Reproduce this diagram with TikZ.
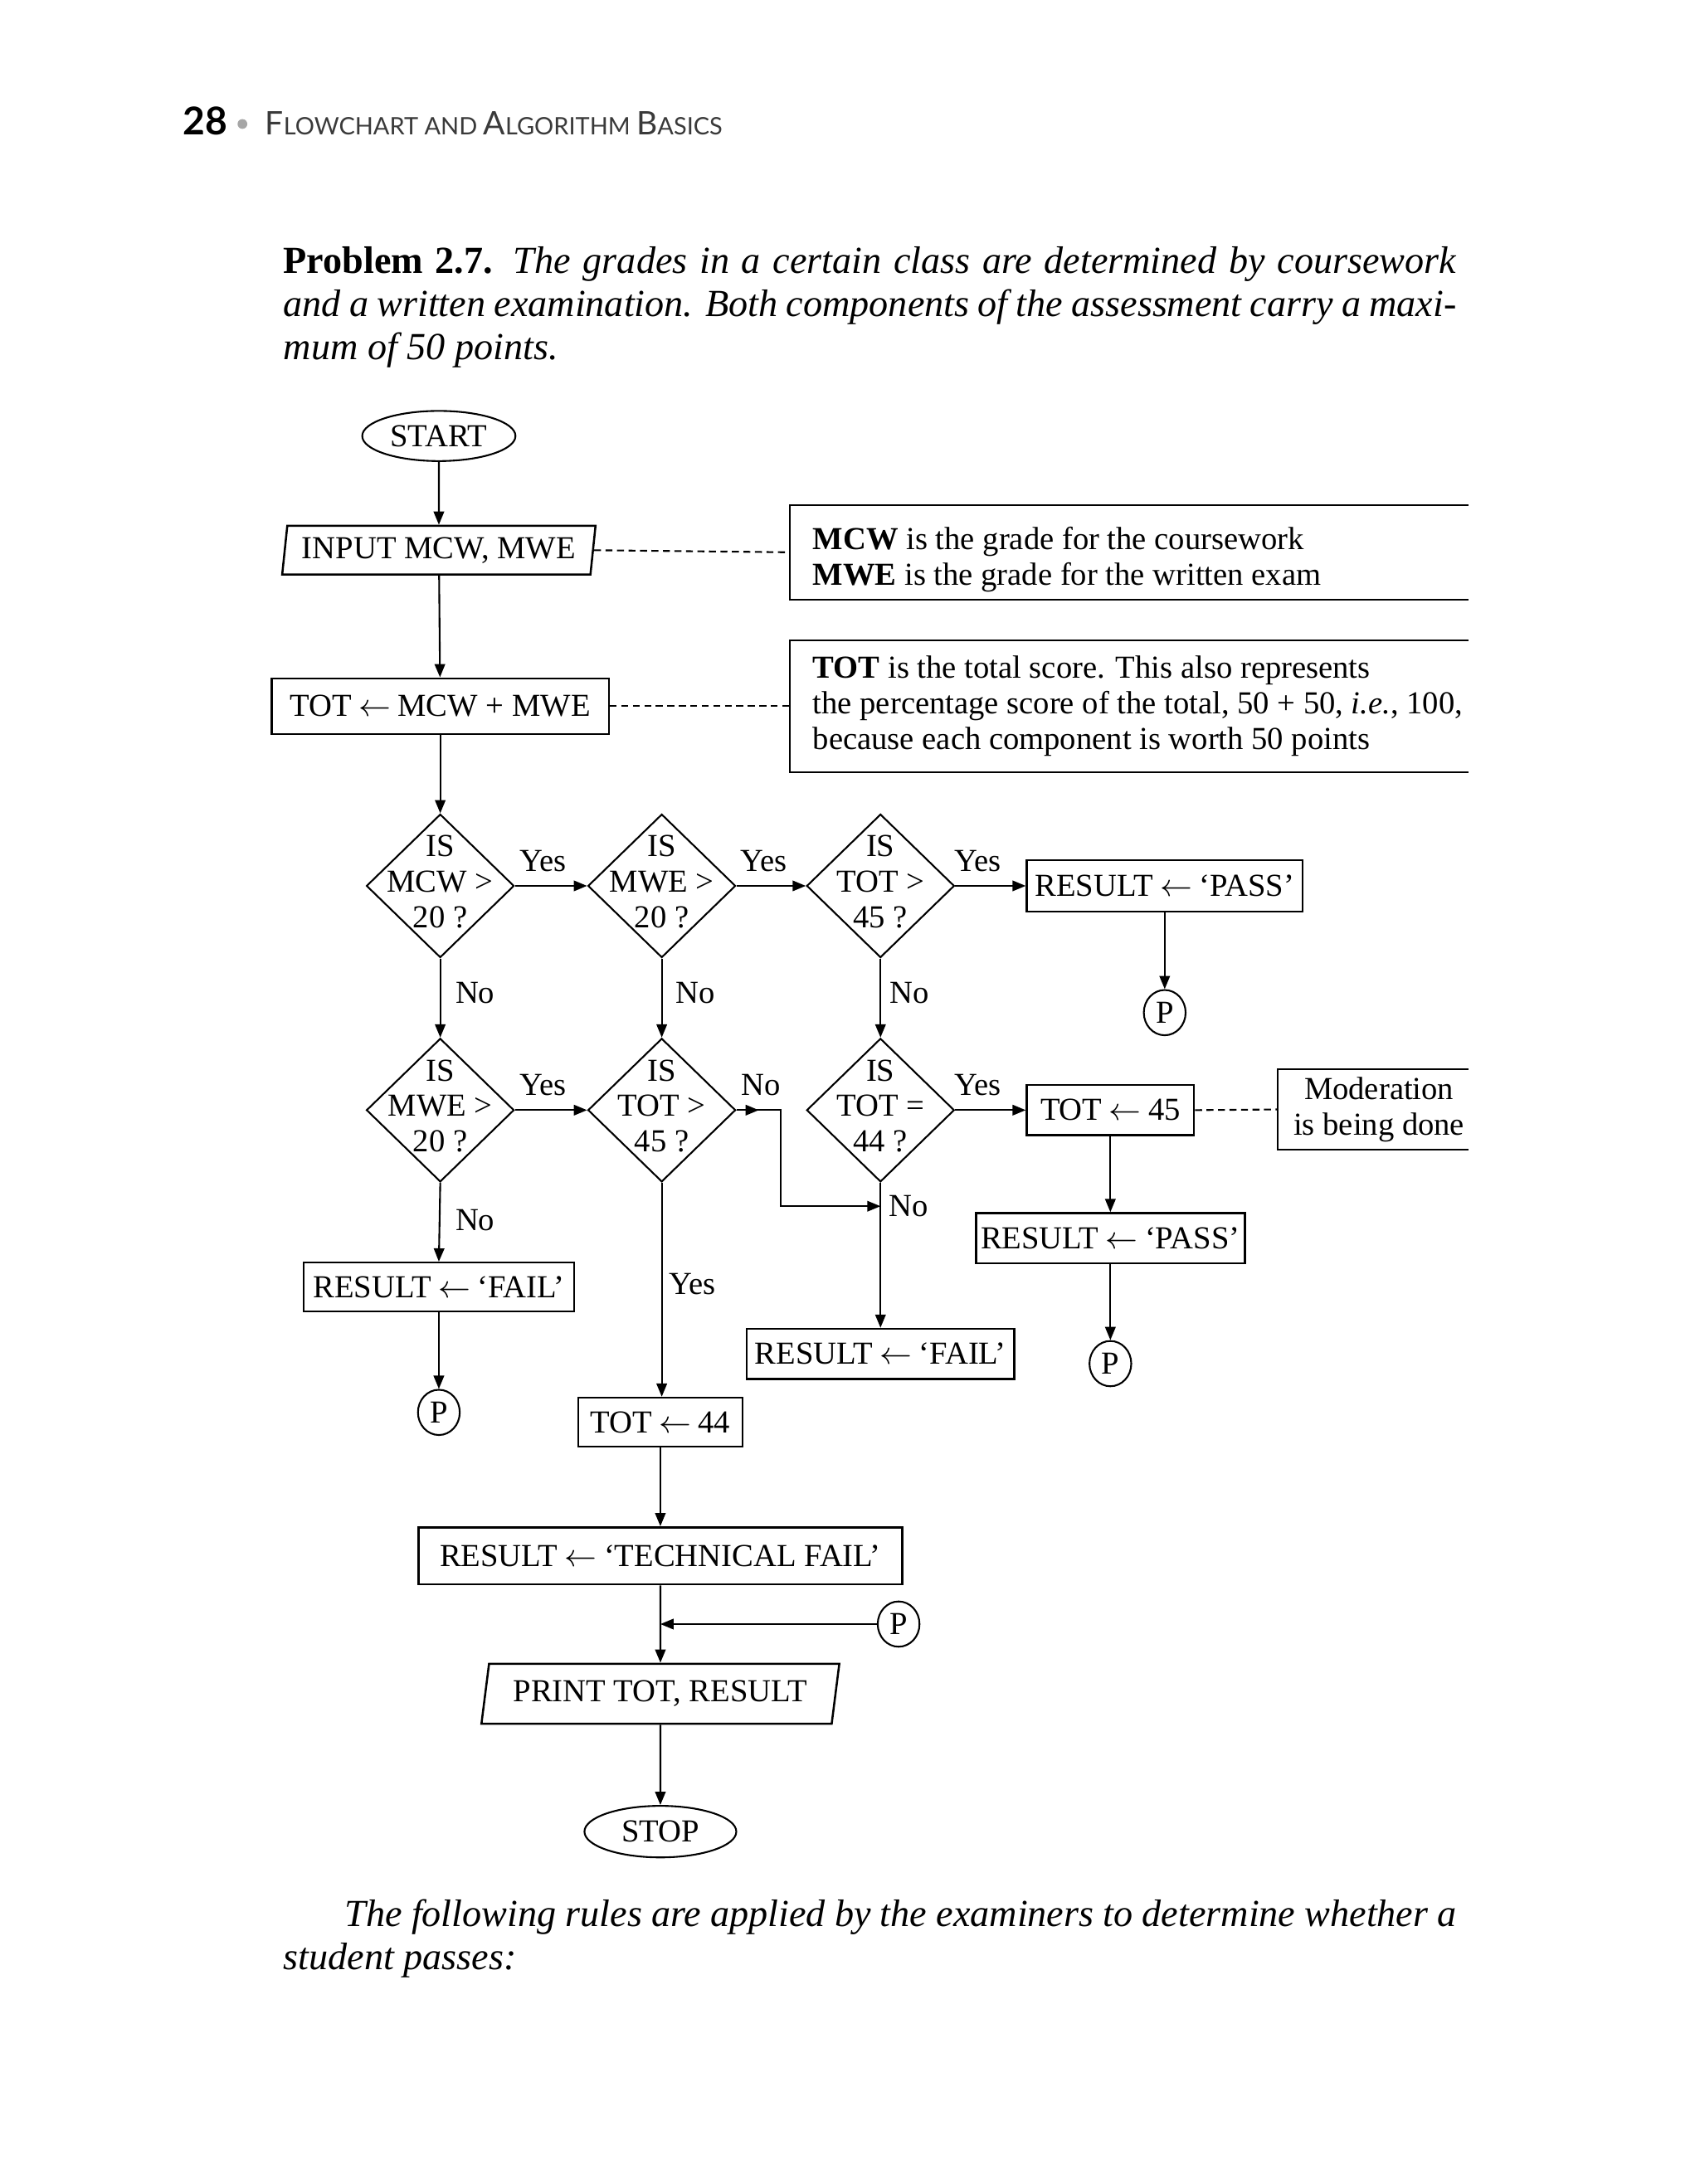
\documentclass[tikz,border=0pt]{standalone}
\usepackage{fontspec}
\setmainfont{Liberation Serif}
\newfontfamily\headfont{Lato}
\usetikzlibrary{shapes.geometric,arrows.meta,calc}
\definecolor{headgray}{HTML}{3A3A3A}
\newcommand{\asgn}{\kern2pt$\leftarrow$\kern2pt}
\begin{document}
\begin{tikzpicture}[x=0.4pt,y=-0.4pt,
  fc/.style={font=\fontsize{9.2}{10.2}\selectfont},
  box/.style={draw, rectangle, line width=0.6pt, inner sep=0pt, fc},
  dia/.style={draw, diamond, minimum width=42.4pt, minimum height=41.2pt, inner sep=0pt, line width=0.5pt},
  dtext/.style={fc, align=center, inner sep=0pt, yshift=1.2pt},
  arr/.style={-{Triangle[length=3.8pt,width=3pt]}, line width=0.5pt},
  conn/.style={line width=0.5pt},
  dsh/.style={line width=0.5pt, dash pattern=on 2pt off 1.3pt},
  lab/.style={fc, inner sep=0pt},
  pc/.style={draw, ellipse, minimum width=12pt, minimum height=13pt, inner sep=0pt, line width=0.5pt, fc},
  term/.style={draw, ellipse, inner sep=0pt, line width=0.5pt, fc},
  io/.style={draw, trapezium, trapezium stretches=true, inner sep=0pt, line width=0.6pt, fc},
  note/.style={fc, align=left, inner ysep=0pt, inner xsep=6.4pt},
  body/.style={anchor=base west, inner sep=0pt, font=\fontsize{11}{12.4}\selectfont}
]
\useasboundingbox (0,0) rectangle (1220,1568);

% header
\node[anchor=base west, inner sep=0pt, font=\headfont\bfseries\fontsize{11}{13}\selectfont] (pgno) at (131,97) {28};
\node[circle, fill=gray!70, inner sep=0pt, minimum size=2.8pt] (bul) at (174,89) {};
\node[anchor=base west, inner sep=0pt, text=headgray, font=\headfont] (htitle) at (190,97)
  {{\fontsize{9.3}{12}\selectfont F}{\fontsize{6.9}{12}\selectfont LOWCHART AND }{\fontsize{9.3}{12}\selectfont A}{\fontsize{6.9}{12}\selectfont LGORITHM }{\fontsize{9.3}{12}\selectfont B}{\fontsize{6.9}{12}\selectfont ASICS}};

% problem statement
\node[body] (t1) at (203,196) {\makebox[336.8pt][s]{\textbf{Problem 2.7.} \textit{The grades in a certain class are determined by coursework}}};
\node[body] (t2) at (203,227) {\makebox[336.8pt][s]{\textit{and a written examination. Both components of the assessment carry a maxi-}}};
\node[body] (t3) at (203,258) {\textit{mum of 50 points.}};

% flowchart nodes
\node[term, minimum width=44pt, minimum height=14.4pt] (start) at (315,313) {START};
\node[io, trapezium left angle=80, trapezium right angle=100, minimum width=90pt, minimum height=14pt] (input) at (315,395) {INPUT MCW, MWE};
\node[box, minimum width=96.8pt, minimum height=16pt] (tot) at (316,507) {TOT\asgn MCW + MWE};

\node[note, anchor=west, minimum height=26.8pt] (n1) at (567,396.5)
  {\rule{0pt}{10.5pt}\textbf{MCW} is the grade for the coursework\\ \textbf{MWE} is the grade for the written exam};
\node[note, anchor=west, minimum height=37.6pt] (n2) at (567,507)
  {\textbf{TOT} is the total score. This also represents\\ the percentage score of the total, 50 + 50, \textit{i.e.}, 100,\\ because each component is worth 50 points};
\draw[conn] (n1.north west) ++(487,0) -- (n1.north west) -- (n1.south west) -- ++(487,0);
\draw[conn] (n2.north west) ++(487,0) -- (n2.north west) -- (n2.south west) -- ++(487,0);

\node[dia, label={[dtext]center:{IS\\MCW >\\20 ?}}] (d1) at (316,636) {};
\node[dia, label={[dtext]center:{IS\\MWE >\\20 ?}}] (d2) at (475,636) {};
\node[dia, label={[dtext]center:{IS\\TOT >\\45 ?}}] (d3) at (632,636) {};
\node[dia, label={[dtext]center:{IS\\MWE >\\20 ?}}] (d4) at (316,797) {};
\node[dia, label={[dtext]center:{IS\\TOT >\\45 ?}}] (d5) at (475,797) {};
\node[dia, label={[dtext]center:{IS\\TOT =\\44 ?}}] (d6) at (632,797) {};

\node[box, minimum width=79.2pt, minimum height=14.8pt] (pass1) at (836,636) {RESULT\asgn`PASS'};
\node[pc] (p1) at (836,727) {P};
\node[box, minimum width=48pt, minimum height=14.4pt] (t45) at (797,797) {TOT\asgn 45};
\node[fc, align=center, anchor=west, inner ysep=0pt, inner xsep=4.4pt, minimum height=22.8pt] (mod) at (917,796.5) {Moderation\\is being done};
\draw[conn] (mod.north west) ++(137,0) -- (mod.north west) -- (mod.south west) -- ++(137,0);
\node[box, minimum width=77.2pt, minimum height=14.4pt] (pass2) at (797,889) {RESULT\asgn`PASS'};
\node[pc] (p2) at (797,979) {P};
\node[box, minimum width=77.6pt, minimum height=14pt] (fail1) at (315,924) {RESULT\asgn`FAIL'};
\node[pc] (p3) at (315,1014) {P};
\node[box, minimum width=47.2pt, minimum height=14pt] (t44) at (474,1021) {TOT\asgn 44};
\node[box, minimum width=76.8pt, minimum height=14.4pt] (fail2) at (632,972) {RESULT\asgn`FAIL'};
\node[box, minimum width=138.8pt, minimum height=16.4pt] (tech) at (474,1117) {RESULT\asgn`TECHNICAL FAIL'};
\node[pc] (p4) at (645,1166) {P};
\node[io, trapezium left angle=76, trapezium right angle=104, minimum width=103.2pt, minimum height=17.2pt] (print) at (474,1216) {PRINT TOT, RESULT};
\node[term, minimum width=43.6pt, minimum height=14.8pt] (stop) at (474,1315) {STOP};

\coordinate (j1) at (632,866);
\coordinate (j2) at (474,1166);

% connectors
\draw[arr] (start) -- (input);
\draw[arr] (input) -- (tot);
\draw[arr] (tot) -- (d1);
\draw[dsh] (input.east) -- (n1.west);
\draw[dsh] (tot.east) -- (n2.west);
\draw[arr] (d1.east) -- (d2.west);
\draw[arr] (d2.east) -- (d3.west);
\draw[arr] (d3.east) -- (pass1.west);
\draw[arr] (pass1) -- (p1);
\draw[arr] (d1.south) -- (d4.north);
\draw[arr] (d2.south) -- (d5.north);
\draw[arr] (d3.south) -- (d6.north);
\draw[arr] (d4.east) -- (d5.west);
\draw[arr] (d5.east) -- ++(16,0);
\draw[arr] (d5.east) -- ++(32,0) |- (j1);
\draw[arr] (d6.east) -- (t45.west);
\draw[dsh] (t45.east) -- (mod.west);
\draw[arr] (t45) -- (pass2);
\draw[arr] (pass2) -- (p2);
\draw[arr] (d4.south) -- (fail1.north);
\draw[arr] (fail1) -- (p3);
\draw[arr] (d5.south) -- (d5.south |- t44.north);
\draw[arr] (d6.south) -- (fail2.north);
\draw[arr] (t44) -- (tech);
\draw[arr] (tech) -- (print);
\draw[arr] (p4.west) -- (j2);
\draw[arr] (print) -- (stop);

% labels
\node[lab] (y1) at (390,618) {Yes};
\node[lab] (y2) at (548,618) {Yes};
\node[lab] (y3) at (702,618) {Yes};
\node[lab] (no1) at (341,713) {No};
\node[lab] (no2) at (499,713) {No};
\node[lab] (no3) at (653,713) {No};
\node[lab] (y4) at (390,779) {Yes};
\node[lab] (no4) at (546,779) {No};
\node[lab] (y5) at (702,779) {Yes};
\node[lab] (no5) at (341,876) {No};
\node[lab] (y6) at (497,922) {Yes};
\node[lab] (no6) at (652,866) {No};

% closing text
\node[body] (b1) at (247,1383) {\makebox[319.2pt][s]{\textit{The following rules are applied by the examiners to determine whether a}}};
\node[body] (b2) at (203,1414) {\textit{student passes:}};
\end{tikzpicture}
\end{document}
